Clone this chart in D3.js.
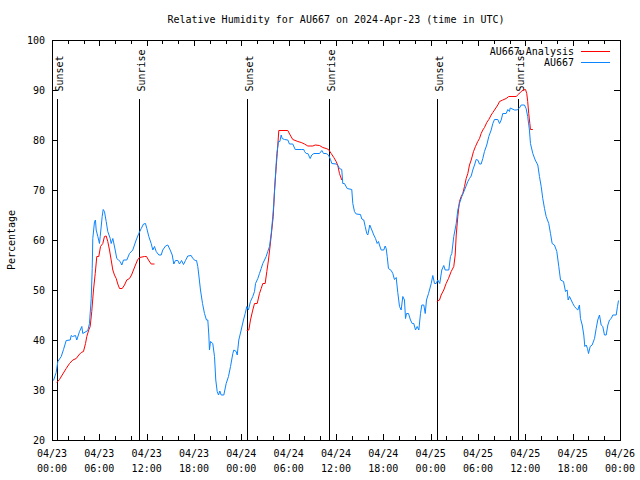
<!DOCTYPE html>
<html>
<head>
<meta charset="utf-8">
<script src="https://cdn.jsdelivr.net/npm/d3@7"></script>
<style>
  html, body { margin: 0; padding: 0; background: #fff; }
  svg { display: block; }
  text { font-family: "DejaVu Sans Mono", "Liberation Mono", monospace; font-size: 10px; fill: #000; }
</style>
</head>
<body>
<svg id="chart" width="640" height="480"></svg>
<script>
// ---------------- DATA (hours since 2024-04-23 00:00 UTC, relative humidity %) ----------------
const chartTitle = "Relative Humidity for AU667 on 2024-Apr-23 (time in UTC)";
const yLabel = "Percentage";
const seriesNames = ["AU667 Analysis", "AU667"];
const yTicks = [20, 30, 40, 50, 60, 70, 80, 90, 100];
const xTickHours = [0, 6, 12, 18, 24, 30, 36, 42, 48, 54, 60, 66, 72];
const xTickDates = ["04/23","04/23","04/23","04/23","04/24","04/24","04/24","04/24","04/25","04/25","04/25","04/25","04/26"];
const xTickTimes = ["00:00","06:00","12:00","18:00","00:00","06:00","12:00","18:00","00:00","06:00","12:00","18:00","00:00"];
const sunsetHours = [0.61, 24.69, 48.78];
const sunriseHours = [11.0, 35.09, 59.04];

// observed station series (blue)
const observed = [
[0.19,31.9],[0.53,33.5],[0.74,35.7],[1.17,36.7],[1.46,38.1],[1.80,39.9],[2.31,40],[2.43,40.9],[2.60,40.7],
[2.98,40.9],[3.14,40],[3.49,41.7],[3.78,42.7],[3.90,41.3],[4.54,41.9],[4.75,43.3],[4.97,48.3],[5.10,54.3],
[5.17,60.3],[5.39,63.7],[5.51,64],[5.60,62],[5.81,60.7],[6.02,59.3],[6.11,60.7],[6.36,64.7],[6.49,66.1],
[6.65,65.7],[6.87,63.7],[7.07,61.7],[7.38,60.3],[7.50,59.3],[7.71,60.3],[8.01,58],[8.21,56.3],[8.43,56],
[8.64,55.7],[8.85,55],[9.06,56],[9.48,56],[9.82,57.3],[10.24,58],[10.67,60],[11.00,61.3],[11.31,62.3],
[11.60,63.2],[11.85,63.3],[12.02,62.3],[12.27,60.7],[12.57,59.3],[12.78,58],[12.99,58.7],[13.21,57.7],
[13.54,57],[13.84,57],[14.04,58],[14.39,58.8],[14.68,59],[14.98,58],[15.24,57],[15.44,55.2],[15.65,55.9],
[15.95,55.9],[16.16,55.2],[16.42,55.9],[16.67,55.1],[16.92,55.9],[17.21,56.8],[17.64,56.9],[17.85,56.3],
[18.15,55.9],[18.32,55.9],[18.48,54.7],[18.61,53],[18.82,50],[19.08,47.3],[19.33,45.3],[19.58,44],
[19.75,44],[19.88,41],[19.96,38],[20.09,39.7],[20.38,39.3],[20.60,36.7],[20.76,32],[20.94,29.7],[21.11,29],
[21.27,29.8],[21.45,29],[21.78,29],[22.08,31.3],[22.37,32.7],[22.63,34.7],[22.92,37.3],[23.05,38],
[23.35,37.7],[23.48,37],[23.68,40],[23.98,42],[24.27,44],[24.49,45.3],[24.69,46.7],[24.90,46],[25.16,47.7],
[25.45,48.7],[25.67,49.7],[25.80,51.3],[26.09,52.3],[26.30,53.3],[26.52,54.3],[26.72,55.3],[26.94,56],
[27.15,56.7],[27.35,57.7],[27.57,58.7],[27.79,61.3],[27.95,64],[28.12,67.3],[28.29,72],[28.50,77.3],
[28.71,79.7],[28.88,79.7],[29.05,81],[29.18,80.3],[29.47,80.1],[29.89,80],[30.10,79.2],[30.52,79.2],
[30.83,78.1],[31.59,78.1],[31.92,78.1],[32.01,77.7],[32.22,77.3],[32.43,77.3],[32.73,76.3],[32.93,77],
[33.19,77.3],[33.91,77.3],[34.20,77.9],[34.42,77.3],[34.76,77.3],[35.05,77],[35.30,76.1],[35.47,75.3],
[36.02,75.2],[36.23,74.9],[36.44,74.3],[36.73,74.1],[36.86,71.3],[37.07,71.3],[37.42,70.3],[38.00,70.1],
[38.13,67.3],[38.34,65.7],[38.56,65.2],[39.10,65.1],[39.27,64.2],[39.52,64],[39.70,62.7],[39.90,61.3],
[40.03,61],[40.16,62],[40.28,63],[40.54,62],[40.79,61],[41.01,60.3],[41.22,59.3],[41.39,59.7],[41.51,59],
[41.73,58],[42.06,58],[42.23,58.8],[42.36,58.3],[42.49,56.7],[42.65,54.3],[43.00,53.9],[43.20,53.3],
[43.41,52.1],[43.63,52.5],[43.83,49.5],[44.05,46.7],[44.26,46],[44.47,48.7],[44.68,48],[44.81,44.3],
[44.94,45.3],[45.19,45.3],[45.44,44],[45.66,43.3],[45.86,43.3],[46.08,42],[46.29,42.7],[46.50,42],
[46.71,45.3],[46.88,47],[47.13,47],[47.31,45.3],[47.47,48],[47.73,49.3],[48.07,51.3],[48.27,52.9],
[48.49,51.3],[48.70,51.3],[48.90,52],[49.15,51.3],[49.41,54],[49.66,54.9],[49.84,54],[50.30,54],
[50.51,56.7],[50.68,57.3],[50.93,60.7],[51.24,63.3],[51.44,66],[51.65,67.3],[51.95,68.7],[52.29,70],
[52.71,71.7],[52.92,72.3],[53.14,72.8],[53.34,74],[53.56,75],[53.77,76.1],[53.97,76],[54.19,75.2],
[54.40,75.2],[54.61,76.3],[54.82,77.7],[55.11,79],[55.37,80.7],[55.67,82],[55.88,83.3],[56.09,84.1],
[56.51,84.1],[56.73,83.3],[56.94,84],[57.14,85.3],[57.57,85.3],[57.78,86.1],[57.99,85.7],[58.08,86.4],
[58.63,86],[58.84,86],[59.04,86.1],[59.25,86.4],[59.47,87],[59.89,87],[60.10,86.3],[60.30,84.7],
[60.52,82],[60.65,79.3],[60.95,77.3],[61.25,76],[61.58,75],[61.79,72.7],[62.01,70.7],[62.21,68.3],
[62.43,66.3],[62.64,64.7],[62.97,63.3],[63.19,61.3],[63.40,59.3],[63.69,59],[63.99,57.7],[64.24,54.7],
[64.46,52],[64.84,51.7],[65.09,49.7],[65.30,50],[65.43,48],[65.60,48.7],[65.81,48],[66.02,47.3],
[66.23,46.7],[66.45,46.3],[66.65,46],[66.86,47],[66.99,44.3],[67.21,43],[67.41,41],[67.54,38.7],
[67.71,39],[67.88,38.3],[68.01,37.3],[68.22,38.7],[68.47,39],[68.77,40.3],[68.98,42.3],[69.18,44],
[69.40,45],[69.61,43],[69.82,42.7],[70.03,41],[70.25,41],[70.46,43],[70.67,44],[70.89,44.3],[71.09,45],
[71.52,45],[71.68,46.7],[71.81,47.9]
];

// analysis series (red), three separate runs starting at sunset
const analysisNight1 = [
[0.61,31.5],[0.95,32.1],[1.29,33],[1.80,34.3],[2.22,35.3],[2.64,36],[3.07,36.3],[3.40,37],[3.70,37.5],
[3.99,37.7],[4.25,39.3],[4.41,40.7],[4.66,42],[4.84,42.7],[5.04,45.7],[5.26,50],[5.48,53.3],[5.68,56.7],
[5.93,56.7],[6.15,58.7],[6.44,59.3],[6.65,60.7],[6.87,60.8],[7.07,59.7],[7.29,58],[7.50,56],[7.71,54],
[7.92,53],[8.14,52.3],[8.34,51.2],[8.56,50.3],[8.90,50.3],[9.19,51],[9.48,52],[9.82,52.3],[10.08,53],
[10.33,54],[10.58,55],[10.84,56],[11.09,56.5],[11.73,56.7],[11.98,56.7],[12.23,56],[12.57,55.2],[12.99,55.2]
];
const analysisNight2 = [
[24.69,41.9],[24.95,42],[25.16,44],[25.45,46],[25.67,47.3],[26.01,47.3],[26.30,49.3],[26.52,50.3],
[26.72,51.3],[27.02,51.3],[27.23,53.7],[27.44,56],[27.66,59],[27.86,62],[28.04,64.7],[28.20,69.7],
[28.42,74.7],[28.55,77.3],[28.75,81.9],[29.89,81.9],[30.19,81],[30.52,80.1],[31.16,79.7],[31.59,79.5],
[32.01,79.2],[32.43,78.8],[33.06,78.8],[33.36,79],[33.91,78.9],[34.33,78.5],[34.76,78.3],[35.05,78.1],
[35.39,77.3],[35.72,76.5],[36.02,75.7],[36.23,74.9],[36.44,73.3],[36.73,72]
];
const analysisNight3 = [
[48.78,47.7],[49.12,48],[49.33,49],[49.66,50],[49.96,51.3],[50.26,52.3],[50.60,53.7],[50.93,54.7],
[51.11,57],[51.24,61],[51.44,64.7],[51.65,67.7],[51.87,68.7],[52.07,69.3],[52.29,70.7],[52.50,72.3],
[52.71,73.3],[52.92,75],[53.14,76],[53.43,77.7],[53.68,78.7],[53.97,79.7],[54.19,80.3],[54.40,81.3],
[54.61,82],[54.82,82.5],[55.11,83.5],[55.37,84.1],[55.67,85],[55.88,85.5],[56.09,86],[56.51,87],
[56.73,87.7],[57.14,88],[57.57,88.3],[57.90,88.7],[58.84,88.7],[59.17,89.2],[59.47,89.7],[59.76,90],
[60.02,90.1],[60.18,89.3],[60.30,87.7],[60.43,85.3],[60.57,83.3],[60.65,82.1],[60.95,82.1]
];

// ---------------- DRAWING ----------------
const RED = "#ff0000", BLUE = "#0a84ff";
const margin = {left: 52, top: 40}, W = 568, H = 400;
const t0 = Date.UTC(2024, 3, 23, 0, 0);
const toDate = h => new Date(t0 + h * 3600e3);

const svg = d3.select("#chart");
const g = svg.append("g").attr("transform", `translate(${margin.left},${margin.top})`);

const x = d3.scaleUtc().domain([toDate(0), toDate(72)]).range([0, W]);
const y = d3.scaleLinear().domain([20, 100]).range([H, 0]);

// title
svg.append("text").attr("x", 336).attr("y", 23).attr("text-anchor", "middle").text(chartTitle);
// y label
svg.append("text").attr("transform", "translate(15,240) rotate(-90)").attr("text-anchor", "middle").text(yLabel);

// minor x ticks every 2h
const minorHours = d3.range(0, 73, 2);
const majorLen = 6, minorLen = 4;
const axB = d3.axisBottom(x).tickValues(xTickHours.map(toDate)).tickSize(-majorLen).tickFormat("");
const axT = d3.axisTop(x).tickValues(xTickHours.map(toDate)).tickSize(-majorLen).tickFormat("");
const axBm = d3.axisBottom(x).tickValues(minorHours.map(toDate)).tickSize(-minorLen).tickFormat("");
const axTm = d3.axisTop(x).tickValues(minorHours.map(toDate)).tickSize(-minorLen).tickFormat("");
const axL = d3.axisLeft(y).tickValues(yTicks).tickSize(-majorLen).tickFormat("");
const axR = d3.axisRight(y).tickValues(yTicks).tickSize(-majorLen).tickFormat("");

[[axBm, `translate(0,${H})`], [axTm, "translate(0,0)"], [axB, `translate(0,${H})`], [axT, "translate(0,0)"],
 [axL, "translate(0,0)"], [axR, `translate(${W},0)`]].forEach(([ax, tr]) => {
  const a = g.append("g").attr("transform", tr).call(ax);
  a.select(".domain").remove();
  a.selectAll("line").attr("stroke", "#000").attr("shape-rendering", "crispEdges");
});
// border
g.append("rect").attr("x", 0.5).attr("y", 0.5).attr("width", W).attr("height", H)
  .attr("fill", "none").attr("stroke", "#000").attr("shape-rendering", "crispEdges");

// y tick labels
g.selectAll(".ylab").data(yTicks).join("text")
  .attr("x", -7).attr("y", d => y(d) + 4).attr("text-anchor", "end").text(d => d);

// x tick labels (two lines)
const xl = g.selectAll(".xlab").data(xTickHours).join("text")
  .attr("text-anchor", "middle").attr("transform", d => `translate(${x(toDate(d))},${H + 17})`);
xl.append("tspan").attr("x", 0).attr("y", 0).text((d, i) => xTickDates[i]);
xl.append("tspan").attr("x", 0).attr("y", 15).text((d, i) => xTickTimes[i]);

// sunset / sunrise markers
const sunEvents = sunsetHours.map(h => ({h, label: "Sunset"}))
  .concat(sunriseHours.map(h => ({h, label: "Sunrise"})));
sunEvents.forEach(e => {
  const px = Math.round(x(toDate(e.h))) + 0.5;
  g.append("line").attr("x1", px).attr("x2", px).attr("y1", y(88.2)).attr("y2", y(20))
    .attr("stroke", "#000").attr("stroke-width", 1).attr("shape-rendering", "crispEdges");
  g.append("text").attr("transform", `translate(${px + 5.5},${y(89.7)}) rotate(-90)`)
    .attr("text-anchor", "start").text(e.label);
});

// lines
const line = d3.line().x(d => x(toDate(d[0]))).y(d => y(d[1]));
[analysisNight1, analysisNight2, analysisNight3].forEach(s => {
  g.append("path").datum(s).attr("d", line).attr("fill", "none").attr("stroke", RED).attr("stroke-width", 1);
});
g.append("path").datum(observed).attr("d", line).attr("fill", "none").attr("stroke", BLUE).attr("stroke-width", 1);

// legend
const legend = [{name: seriesNames[0], color: RED, yy: 51.5}, {name: seriesNames[1], color: BLUE, yy: 62.5}];
legend.forEach(l => {
  svg.append("text").attr("x", 574).attr("y", l.yy + 3.5).attr("text-anchor", "end").text(l.name);
  svg.append("line").attr("x1", 581).attr("x2", 610).attr("y1", l.yy).attr("y2", l.yy)
    .attr("stroke", l.color).attr("stroke-width", 1).attr("shape-rendering", "crispEdges");
});
</script>
</body>
</html>
